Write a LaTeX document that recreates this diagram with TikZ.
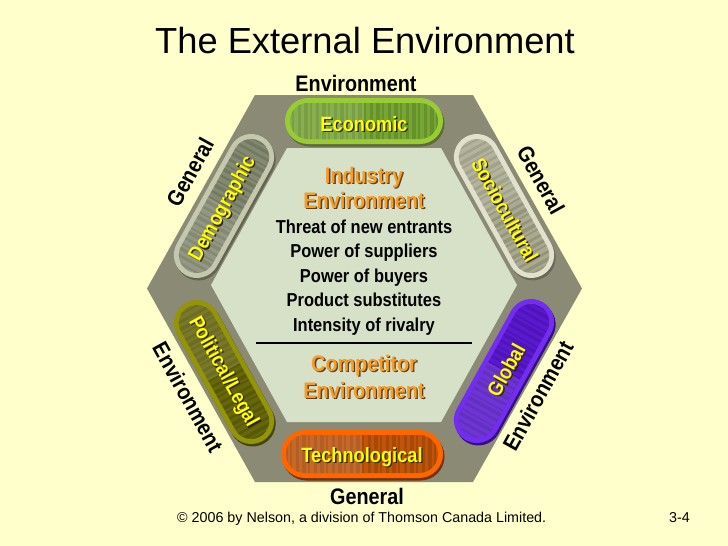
\documentclass[tikz,border=0pt]{standalone}
\usepackage{fontspec}
\setmainfont{Liberation Sans}
\newfontfamily\nb[FakeStretch=0.88]{Liberation Sans}
\definecolor{bg}{RGB}{255,255,204}
\definecolor{band}{RGB}{139,139,117}
\definecolor{core}{RGB}{214,225,200}
\definecolor{orangeT}{RGB}{242,158,45}
\definecolor{orangeS}{RGB}{100,60,20}
\definecolor{yel}{RGB}{255,255,0}
\definecolor{yelS}{RGB}{45,35,0}
% pill colours: rim, inner, shadow
\definecolor{ecoR}{RGB}{153,204,51}\definecolor{ecoI}{RGB}{118,166,52}\definecolor{ecoS}{RGB}{95,105,60}
\definecolor{tecR}{RGB}{255,102,0}\definecolor{tecI}{RGB}{192,84,8}\definecolor{tecS}{RGB}{120,50,5}
\definecolor{demR}{RGB}{196,200,172}\definecolor{demI}{RGB}{132,138,112}\definecolor{demS}{RGB}{100,100,82}
\definecolor{socR}{RGB}{226,226,204}\definecolor{socI}{RGB}{170,170,144}\definecolor{socS}{RGB}{105,105,88}
\definecolor{polR}{RGB}{148,148,8}\definecolor{polI}{RGB}{102,102,10}\definecolor{polS}{RGB}{70,70,10}
\definecolor{gloR}{RGB}{115,45,240}\definecolor{gloI}{RGB}{90,24,208}\definecolor{gloS}{RGB}{55,15,130}
\newcommand{\pillx}[8]{% name, pos, rot, length, thickness, rim, inner, shadow
  \pgfmathsetmacro\prr{#5/2}%
  \pgfmathsetmacro\pil{#4-10}%
  \pgfmathsetmacro\pit{#5-10}%
  \pgfmathsetmacro\pir{(#5-10)/2}%
  \pgfmathsetmacro\phl{(#4-10)/2}%
  \pgfmathsetmacro\pht{(#5-10)/2}%
  \node[pillbase, xshift=1.5pt, yshift=-2.5pt, rotate=#3, fill=#8, minimum width=#4pt, minimum height=#5pt, rounded corners=\prr pt] (#1sh) at #2 {};
  \node[pillbase, rotate=#3, fill=#6, minimum width=#4pt, minimum height=#5pt, rounded corners=\prr pt] (#1rim) at #2 {};
  \node[pillbase, rotate=#3, fill=#7, minimum width=\pil pt, minimum height=\pit pt, rounded corners=\pir pt] (#1in) at #2 {};
  \begin{scope}[shift={#2}, rotate=#3]
    \clip[rounded corners=\pir pt] (-\phl,-\pht) rectangle (\phl,\pht);
    \foreach \k [count=\c] in {-84,-78,...,84}{
      \pgfmathsetmacro\psw{1.5+mod(\c,3)}%
      \fill[#7!72!black, opacity=0.45] (\k,-30) rectangle (\k+\psw,30);
    }
    \fill[white, opacity=0.12] (-\phl,-\pht) rectangle (0,\pht);
  \end{scope}
}
\newcommand{\stxt}[7]{% name, pos, rot, style, colour, shadow colour, text
  \node[#4, xshift=1.3pt, yshift=-1.3pt, rotate=#3, text=#6] (#1s) at #2 {#7};
  \node[#4, rotate=#3, text=#5] (#1) at #2 {#7};
}
\begin{document}
\begin{tikzpicture}[x=1pt,y=-1pt,
  pillbase/.style={shape=rectangle, inner sep=0pt, draw=none},
  pilltxt/.style={font=\nb\bfseries\fontsize{20.7}{22}\selectfont, inner sep=0pt},
  headtxt/.style={font=\nb\bfseries\fontsize{22.5}{24}\selectfont, inner sep=0pt, anchor=base},
  listtxt/.style={font=\nb\bfseries\fontsize{18.7}{20}\selectfont, inner sep=0pt, anchor=base, text=black},
  outtxt/.style={font=\nb\bfseries\fontsize{22.5}{24}\selectfont, inner sep=0pt, text=black}]
\useasboundingbox (0,0) rectangle (728,546);
\fill[bg] (0,0) rectangle (728,546);

% title
\node[font=\fontsize{36.3}{40}\selectfont, anchor=base, inner sep=0pt] (title) at (365,53) {The External Environment};

% hexagons
\fill[band] (255,95) -- (473,95) -- (582,288.5) -- (473,482) -- (255,482) -- (147,288.5) -- cycle;
\fill[core] (287,148) -- (441,148) -- (517,285) -- (441,422) -- (287,422) -- (211,285) -- cycle;

% pills
\pillx{eco}{(364,121)}{0}{158}{46}{ecoR}{ecoI}{ecoS}
\pillx{tec}{(362,454)}{0}{162}{48}{tecR}{tecI}{tecS}
\pillx{dem}{(224,206)}{61}{158}{46}{demR}{demI}{demS}
\pillx{soc}{(504,206)}{-61}{158}{46}{socR}{socI}{socS}
\pillx{pol}{(224,372)}{-61}{158}{46}{polR}{polI}{polS}
\pillx{glo}{(504,371)}{61}{158}{46}{gloR}{gloI}{gloS}

% pill labels
\stxt{ecoT}{(364,124)}{0}{pilltxt}{yel}{yelS}{Economic}
\stxt{tecT}{(362,457)}{0}{pilltxt}{yel}{yelS}{Technological}
\stxt{demT}{(223,209)}{61}{pilltxt}{yel}{yelS}{Demographic}
\stxt{socT}{(505,210)}{-61}{pilltxt}{yel}{yelS}{Sociocultural}
\stxt{polT}{(223,372)}{-61}{pilltxt}{yel}{yelS}{Political/Legal}
\stxt{gloT}{(506,370)}{61}{pilltxt}{yel}{yelS}{Global}

% inner texts
\stxt{ind1}{(364,183)}{0}{headtxt}{orangeT}{orangeS}{Industry}
\stxt{ind2}{(364,208)}{0}{headtxt}{orangeT}{orangeS}{Environment}
\node[listtxt] (l1) at (364,233) {Threat of new entrants};
\node[listtxt] (l2) at (364,257.5) {Power of suppliers};
\node[listtxt] (l3) at (364,282) {Power of buyers};
\node[listtxt] (l4) at (364,306.5) {Product substitutes};
\node[listtxt] (l5) at (364,331) {Intensity of rivalry};
\coordinate (sepL) at (256,343);
\coordinate (sepR) at (472,343);
\draw[line width=2pt, black] (sepL) -- (sepR);
\stxt{com1}{(364,371)}{0}{headtxt}{orangeT}{orangeS}{Competitor}
\stxt{com2}{(364,398)}{0}{headtxt}{orangeT}{orangeS}{Environment}

% outside labels
\node[outtxt, anchor=base] (envTop) at (356,91) {Environment};
\node[outtxt, anchor=base] (genBot) at (367,504) {General};
\node[outtxt, rotate=61] (genUL) at (190,172) {General};
\node[outtxt, rotate=-61] (genUR) at (541,180) {General};
\node[outtxt, rotate=-61] (envLL) at (188,397) {Environment};
\node[outtxt, rotate=61] (envLR) at (538,396) {Environment};

% footer
\node[font=\fontsize{14.3}{16}\selectfont, anchor=base west, inner sep=0pt] (foot) at (177,522) {© 2006 by Nelson, a division of Thomson Canada Limited.};
\node[font=\fontsize{14.3}{16}\selectfont, anchor=base west, inner sep=0pt] (page) at (669,522) {3-4};
\end{tikzpicture}
\end{document}
